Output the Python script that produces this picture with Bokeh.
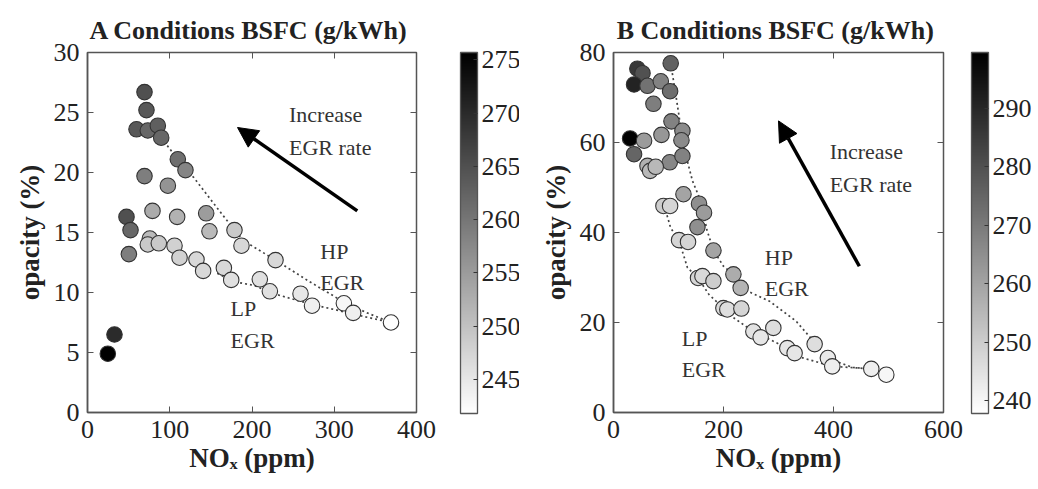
from bokeh.plotting import figure
from bokeh.models import (ColumnDataSource, LinearColorMapper, ColorBar, FixedTicker,
                          LinearAxis, Range1d, Arrow, NormalHead)
from bokeh.layouts import row
from bokeh.embed import file_html
from bokeh.resources import INLINE
from bokeh.core.properties import value

# ---------------- Panel A data ----------------
a_nox = [24.7, 32.8, 69.3, 71.7, 59.6, 73.3, 85.5, 89.6, 109.8, 119.1, 69.3, 97.7,
         47.4, 52.3, 50.3, 79.0, 109.0, 144.3, 148.3, 178.7, 187.2, 228.6,
         75.8, 73.3, 86.7, 105.8, 111.9, 132.5, 140.6, 165.8, 174.7, 209.5, 221.7,
         259.0, 273.0, 311.7, 323.0, 369.0]
a_opacity = [4.9, 6.5, 26.7, 25.2, 23.6, 23.5, 23.9, 22.9, 21.1, 20.2, 19.7, 18.9,
             16.3, 15.2, 13.2, 16.8, 16.3, 16.6, 15.1, 15.2, 13.9, 12.7,
             14.5, 14.0, 14.1, 13.9, 12.9, 12.75, 11.8, 12.05, 11.05, 11.1, 10.1,
             9.9, 8.9, 9.1, 8.3, 7.5]
a_bsfc = [275.5, 270, 265, 264, 264, 262, 263, 262, 261, 258, 259, 256,
          265, 262, 259, 253, 252, 255, 251, 249, 247, 247,
          251, 249, 249, 248, 248, 247, 247, 247, 246, 246, 246,
          245, 244, 243, 244, 242]
a_hp_x = [89.6, 109.8, 119.1, 129, 157, 178.7, 190, 228.6, 270, 311.7, 340, 369]
a_hp_y = [22.9, 21.1, 20.2, 19.6, 17.1, 15.2, 14.3, 12.7, 10.9, 9.2, 8.3, 7.5]
a_lp_x = [157.7, 178, 202, 226.5, 247, 279, 299, 323, 369]
a_lp_y = [11.6, 10.9, 10.6, 9.9, 9.5, 8.9, 8.6, 8.2, 7.5]
a_cb_ticks = [245, 250, 255, 260, 265, 270, 275]
a_cb_range = [241.8, 275.7]
a_x_ticks = [0, 100, 200, 300, 400]
a_y_ticks = [0, 5, 10, 15, 20, 25, 30]

# ---------------- Panel B data ----------------
b_nox = [43.4, 52.7, 104.0, 37.4, 61.8, 86.0, 102.9, 72.6, 105.4, 125.3, 87.2, 123.5,
         30.2, 55.6, 37.4, 102.3, 125.3, 61.8, 66.5, 76.8, 127.2, 90.8, 102.9,
         155.5, 164.6, 152.6, 119.2, 135.5, 181.7, 153.7, 161.7, 181.7, 218.0, 231.2,
         199.8, 207.0, 232.5, 254.3, 267.6, 290.6, 316.0, 329.3, 365.7, 389.8, 397.8,
         468.7, 496.0]
b_opacity = [76.4, 75.4, 77.6, 72.9, 72.6, 73.6, 71.4, 68.6, 64.7, 62.6, 61.7, 60.5,
             60.9, 60.4, 57.4, 55.6, 57.0, 54.8, 53.7, 54.6, 48.5, 45.9, 45.9,
             46.4, 44.4, 41.2, 38.3, 37.9, 36.0, 29.9, 30.3, 29.2, 30.7, 27.7,
             23.2, 22.9, 23.1, 18.0, 16.7, 18.8, 14.3, 13.2, 15.2, 12.1, 10.25,
             9.7, 8.4]
b_bsfc = [286, 280, 276, 291, 272, 268, 273, 269, 268, 266, 263, 266,
          299, 262, 275, 267, 268, 257, 255, 255, 260, 250, 248,
          265, 262, 265, 248, 248, 260, 248, 247, 250, 258, 256,
          247, 246, 248, 245, 244, 246, 244, 244, 246, 243, 242,
          242, 240]
b_hp_x = [104, 113, 119, 126, 134, 143.5, 158.6, 170, 182, 200, 218, 231, 284, 332,
          366, 390, 435, 469, 496]
b_hp_y = [77.6, 70.8, 66, 60, 56, 51.5, 47, 40.5, 36, 32.5, 30.7, 27.7, 24.7, 20.3,
          15.5, 12, 10, 9.7, 8.4]
b_lp_x = [90.8, 95, 104, 119, 127, 134.4, 153.7, 173.7, 199.8, 219, 254, 298, 322,
          398, 469]
b_lp_y = [45.9, 44.8, 41, 38.3, 35.1, 32.2, 29.9, 26.2, 23.2, 21, 18, 15.4, 12.9,
          10.25, 9.7]
b_cb_ticks = [240, 250, 260, 270, 280, 290]
b_cb_range = [237.8, 299.6]
b_x_ticks = [0, 200, 400, 600]
b_y_ticks = [0, 20, 40, 60, 80]

SERIF = "Liberation Serif"
GRAYS = ["#%02x%02x%02x" % (v, v, v) for v in range(255, -1, -1)]
FRAME_COLOR = "#555555"
TXT = "#222222"


def make_panel(title, nox, opac, bsfc, hp_x, hp_y, lp_x, lp_y, xr, yr, xt, yt,
               cb_range, cb_ticks, ann, border_l, border_r, cb_gap):
    frame_w = 519 - border_l - border_r
    p = figure(width=519, height=489, output_backend="svg", toolbar_location=None,
               x_range=Range1d(*xr), y_range=Range1d(*yr),
               min_border_left=border_l, min_border_right=border_r, min_border_top=52,
               min_border_bottom=77)
    p.grid.visible = False
    p.outline_line_color = FRAME_COLOR
    p.outline_line_width = 1.5
    p.background_fill_color = "white"
    p.border_fill_color = "white"

    p.title.text = title
    p.title.text_font = SERIF
    p.title.text_font_size = "26px"
    p.title.text_font_style = "bold"
    p.title.text_color = TXT
    p.title.align = "center"
    p.title.standoff = 16

    for ax, ticks in ((p.xaxis[0], xt), (p.yaxis[0], yt)):
        ax.ticker = FixedTicker(ticks=ticks)
        ax.major_tick_in = 6
        ax.major_tick_out = 0
        ax.minor_tick_line_color = None
        ax.axis_line_color = FRAME_COLOR
        ax.axis_line_width = 1.5
        ax.major_tick_line_color = FRAME_COLOR
        ax.major_label_text_font = SERIF
        ax.major_label_text_font_size = "26px"
        ax.major_label_text_color = TXT
        ax.axis_label_text_font = SERIF
        ax.axis_label_text_font_size = "27px"
        ax.axis_label_text_font_style = "bold"
        ax.axis_label_text_color = TXT
    p.xaxis[0].axis_label = "NOₓ (ppm)"
    p.yaxis[0].axis_label = "opacity (%)"
    p.xaxis[0].major_label_standoff = 8
    p.yaxis[0].major_label_standoff = 8
    p.xaxis[0].axis_label_standoff = 2
    p.yaxis[0].axis_label_standoff = 6

    for loc, ticks in (("above", xt), ("right", yt)):
        ax = LinearAxis(ticker=FixedTicker(ticks=ticks))
        ax.major_tick_in = 6
        ax.major_tick_out = 0
        ax.minor_tick_line_color = None
        ax.axis_line_color = None
        ax.major_tick_line_color = FRAME_COLOR
        ax.major_label_text_font_size = "1px"
        ax.major_label_text_color = None
        ax.major_label_standoff = 0
        p.add_layout(ax, loc)

    p.line(hp_x, hp_y, line_color="#444444", line_width=1.7, line_dash="2 3")
    p.line(lp_x, lp_y, line_color="#444444", line_width=1.7, line_dash="2 3")

    mapper = LinearColorMapper(palette=GRAYS, low=cb_range[0], high=cb_range[1])
    src = ColumnDataSource(dict(x=nox, y=opac, c=bsfc))
    p.scatter("x", "y", source=src, size=15.5,
              fill_color={"field": "c", "transform": mapper},
              line_color="#333333", line_width=1.1)

    (tx, ty), (ax0, ay0, ax1, ay1), (hx, hy), (lx, ly) = ann
    p.text(x=[tx], y=[ty], text=["Increase\nEGR rate"], text_font=value(SERIF),
           text_font_size="22px", text_baseline="top", text_align="left",
           text_color="#333333", text_line_height=1.33)
    p.text(x=[hx], y=[hy], text=["HP\nEGR"], text_font=value(SERIF),
           text_font_size="22px", text_baseline="top", text_align="left",
           text_color="#333333", text_line_height=1.27)
    p.text(x=[lx], y=[ly], text=["LP\nEGR"], text_font=value(SERIF),
           text_font_size="22px", text_baseline="top", text_align="left",
           text_color="#333333", text_line_height=1.27)
    p.add_layout(Arrow(end=NormalHead(size=20, fill_color="black", line_color="black"),
                       x_start=ax0, y_start=ay0, x_end=ax1, y_end=ay1,
                       line_width=3.5, line_color="black"))

    cb = ColorBar(color_mapper=mapper, ticker=FixedTicker(ticks=cb_ticks),
                  width=17, height=361, padding=0, margin=0,
                  location=(frame_w + cb_gap, -1),
                  major_label_text_font=SERIF, major_label_text_font_size="26px",
                  major_label_text_color=TXT,
                  major_tick_line_color="#333333", major_tick_in=4,
                  bar_line_color=FRAME_COLOR, bar_line_width=1.3,
                  border_line_color=None, background_fill_color=None,
                  label_standoff=4)
    p.add_layout(cb, "center")
    return p


pa = make_panel("A Conditions  BSFC (g/kWh)", a_nox, a_opacity, a_bsfc,
                a_hp_x, a_hp_y, a_lp_x, a_lp_y, (0, 400), (0, 30), a_x_ticks, a_y_ticks,
                a_cb_range, a_cb_ticks,
                ((245, 25.9), (328, 16.8, 182.4, 23.75), (283, 14.5), (174, 9.7)),
                87, 103, 44)
pb = make_panel("B Conditions  BSFC (g/kWh)", b_nox, b_opacity, b_bsfc,
                b_hp_x, b_hp_y, b_lp_x, b_lp_y, (0, 600), (0, 80), b_x_ticks, b_y_ticks,
                b_cb_range, b_cb_ticks,
                ((393, 60.8), (447, 32.5, 300, 64.8), (275, 37.3), (124, 19.3)),
                94, 95, 28)

layout = row(pa, pb)
open("out.html", "w").write(file_html(layout, INLINE))
